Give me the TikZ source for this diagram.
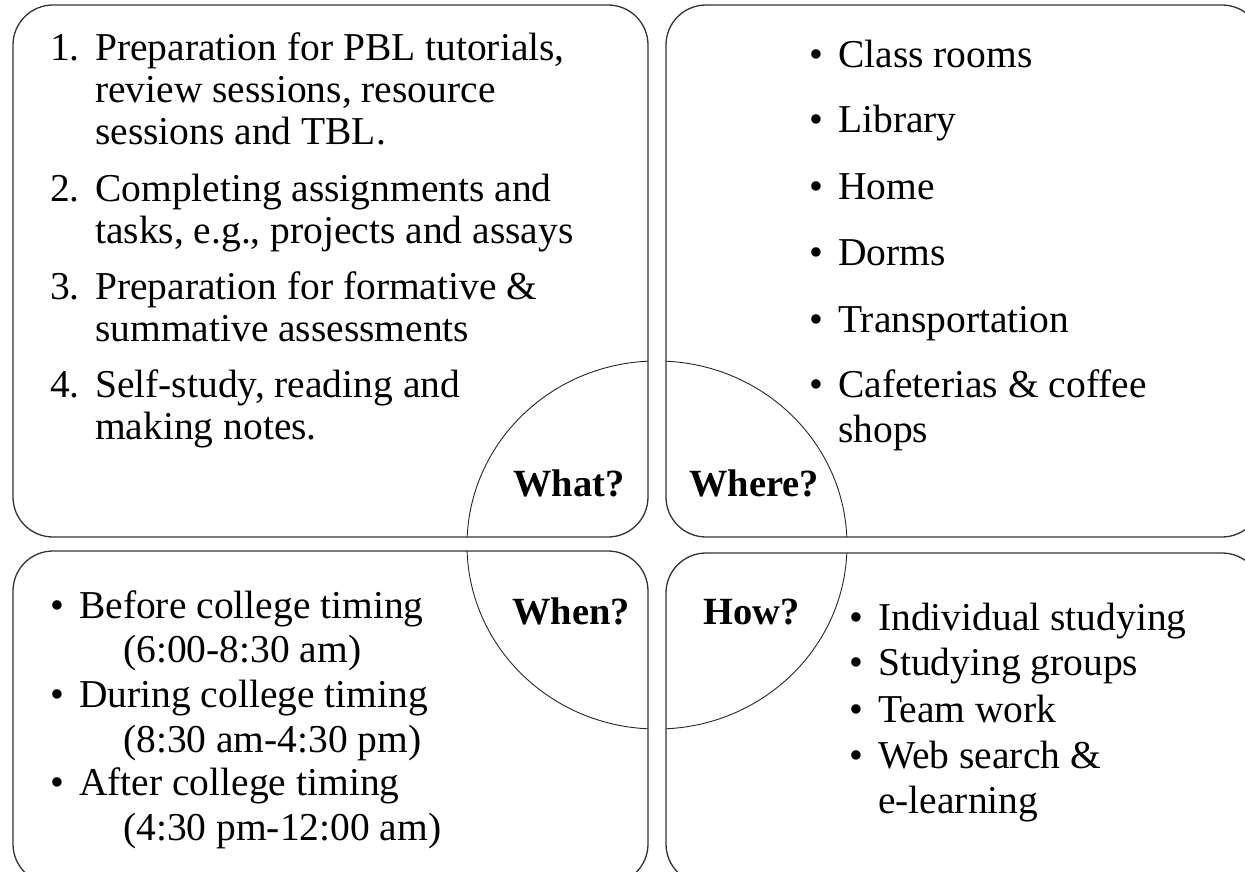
\documentclass[tikz,border=0pt]{standalone}
\usepackage{fontspec}
\setmainfont{Liberation Serif}
\begin{document}
\begin{tikzpicture}[x=1pt,y=-1pt,
  txt/.style={anchor=base west,inner sep=0pt,font=\fontsize{39.5}{44}\selectfont},
  lbl/.style={anchor=base west,inner sep=0pt,font=\fontsize{38.5}{44}\selectfont\bfseries},
  panel/.style={draw=black!80,line width=1.3pt,rounded corners=40pt},
  ring/.style={draw=black!85,line width=0.9pt}]
\useasboundingbox (0,0) rectangle (1245,872);

% four rounded panels
\draw[panel] (13,5) rectangle (648,537);
\draw[panel] (666,5) rectangle (1262,537);
\draw[panel] (13,551) rectangle (648,884);
\draw[panel] (666,553) rectangle (1262,884);

% central ring, shown only inside the panels
\begin{scope}
  \clip (13,5) rectangle (648,537) (666,5) rectangle (1262,537)
        (13,551) rectangle (648,884) (666,553) rectangle (1262,884);
  \draw[ring] (657,545) ellipse [x radius=190, y radius=184];
\end{scope}

% quadrant labels
\node[lbl] (what)  at (513,496) {What?};
\node[lbl] (where) at (689,496) {Where?};
\node[lbl] (when)  at (512,624) {When?};
\node[lbl] (how)   at (703,624) {How?};

% What?
\node[txt] (n1)  at (50,61)  {1.};
\node[txt] (t1a) at (95,61)  {Preparation for PBL tutorials,};
\node[txt] (t1b) at (95,103) {review sessions, resource};
\node[txt] (t1c) at (95,145) {sessions and TBL.};
\node[txt] (n2)  at (50,201) {2.};
\node[txt] (t2a) at (95,201) {Completing assignments and};
\node[txt] (t2b) at (95,243) {tasks, e.g., projects and assays};
\node[txt] (n3)  at (50,299) {3.};
\node[txt] (t3a) at (95,299) {Preparation for formative \&};
\node[txt] (t3b) at (95,341) {summative assessments};
\node[txt] (n4)  at (50,397) {4.};
\node[txt] (t4a) at (95,397) {Self-study, reading and};
\node[txt] (t4b) at (95,439) {making notes.};

% Where?
\node[txt] (b1) at (809,68)  {•};
\node[txt] (w1) at (838,68)  {Class rooms};
\node[txt] (b2) at (809,133) {•};
\node[txt] (w2) at (838,133) {Library};
\node[txt] (b3) at (809,199) {•};
\node[txt] (w3) at (838,199) {Home};
\node[txt] (b4) at (809,265) {•};
\node[txt] (w4) at (838,265) {Dorms};
\node[txt] (b5) at (809,332) {•};
\node[txt] (w5) at (838,332) {Transportation};
\node[txt] (b6) at (809,397) {•};
\node[txt] (w6) at (838,397) {Cafeterias \& coffee};
\node[txt] (w6b) at (838,442) {shops};

% When?
\node[txt] (c1) at (50,618)  {•};
\node[txt] (e1) at (79,618)  {Before college timing};
\node[txt] (e1b) at (123,662) {(6:00-8:30 am)};
\node[txt] (c2) at (50,707)  {•};
\node[txt] (e2) at (79,707)  {During college timing};
\node[txt] (e2b) at (123,752) {(8:30 am-4:30 pm)};
\node[txt] (c3) at (50,795)  {•};
\node[txt] (e3) at (79,795)  {After college timing};
\node[txt] (e3b) at (123,840) {(4:30 pm-12:00 am)};

% How?
\node[txt] (d1) at (849,630) {•};
\node[txt] (h1) at (878,630) {Individual studying};
\node[txt] (d2) at (849,675) {•};
\node[txt] (h2) at (878,675) {Studying groups};
\node[txt] (d3) at (849,722) {•};
\node[txt] (h3) at (878,722) {Team work};
\node[txt] (d4) at (849,768) {•};
\node[txt] (h4) at (878,768) {Web search \&};
\node[txt] (h4b) at (878,813) {e-learning};
\end{tikzpicture}
\end{document}
